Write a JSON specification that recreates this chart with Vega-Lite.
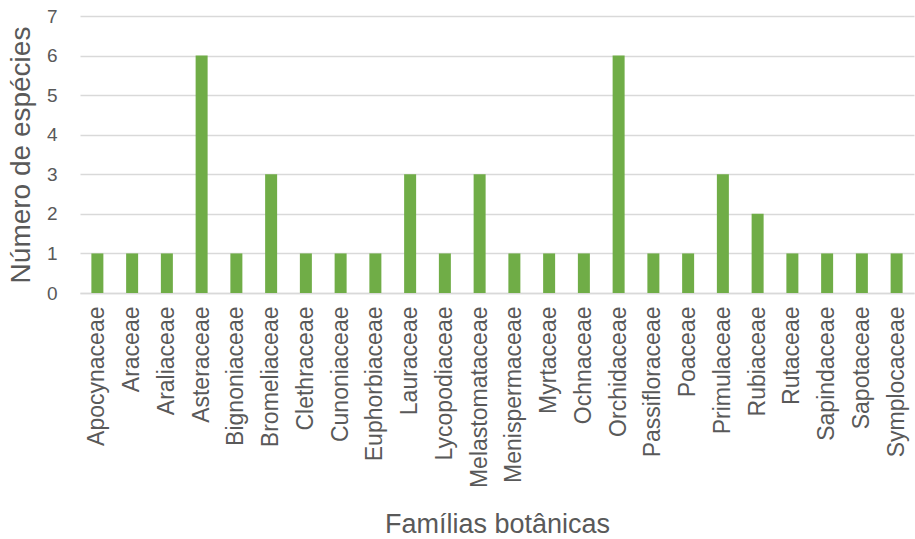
{
  "$schema": "https://vega.github.io/schema/vega-lite/v6.json",
  "autosize": {"type": "none"},
  "width": 834,
  "height": 277,
  "padding": {"left": 80, "top": 16, "right": 1, "bottom": 246},
  "background": "white",
  "config": {
    "view": {"stroke": null},
    "font": "Liberation Sans"
  },
  "data": {
    "values": [
      {"familia": "Apocynaceae", "n": 1},
      {"familia": "Araceae", "n": 1},
      {"familia": "Araliaceae", "n": 1},
      {"familia": "Asteraceae", "n": 6},
      {"familia": "Bignoniaceae", "n": 1},
      {"familia": "Bromeliaceae", "n": 3},
      {"familia": "Clethraceae", "n": 1},
      {"familia": "Cunoniaceae", "n": 1},
      {"familia": "Euphorbiaceae", "n": 1},
      {"familia": "Lauraceae", "n": 3},
      {"familia": "Lycopodiaceae", "n": 1},
      {"familia": "Melastomataceae", "n": 3},
      {"familia": "Menispermaceae", "n": 1},
      {"familia": "Myrtaceae", "n": 1},
      {"familia": "Ochnaceae", "n": 1},
      {"familia": "Orchidaceae", "n": 6},
      {"familia": "Passifloraceae", "n": 1},
      {"familia": "Poaceae", "n": 1},
      {"familia": "Primulaceae", "n": 3},
      {"familia": "Rubiaceae", "n": 2},
      {"familia": "Rutaceae", "n": 1},
      {"familia": "Sapindaceae", "n": 1},
      {"familia": "Sapotaceae", "n": 1},
      {"familia": "Symplocaceae", "n": 1}
    ]
  },
  "mark": {"type": "bar", "color": "#70AD47", "size": 12},
  "encoding": {
    "x": {
      "field": "familia",
      "type": "nominal",
      "sort": null,
      "scale": {"paddingInner": 0, "paddingOuter": 0},
      "axis": {
        "title": "Famílias botânicas",
        "titleFontSize": 27,
        "titleFontWeight": "normal",
        "titleColor": "#595959",
        "titleY": 239,
        "titleBaseline": "alphabetic",
        "labelAngle": -90,
        "labelFontSize": 23,
        "labelLimit": 300,
        "labelColor": "#595959",
        "labelPadding": 13,
        "ticks": false,
        "domainColor": "#D9D9D9",
        "domainWidth": 1.5
      }
    },
    "y": {
      "field": "n",
      "type": "quantitative",
      "scale": {"domain": [0, 7], "nice": false},
      "axis": {
        "title": "Número de espécies",
        "titleFontSize": 28,
        "titleFontWeight": "normal",
        "titleColor": "#595959",
        "titlePadding": 11,
        "values": [0, 1, 2, 3, 4, 5, 6, 7],
        "labelFontSize": 19,
        "labelColor": "#595959",
        "labelPadding": 23,
        "ticks": false,
        "domain": false,
        "gridColor": "#D9D9D9",
        "gridWidth": 1.5
      }
    }
  }
}
